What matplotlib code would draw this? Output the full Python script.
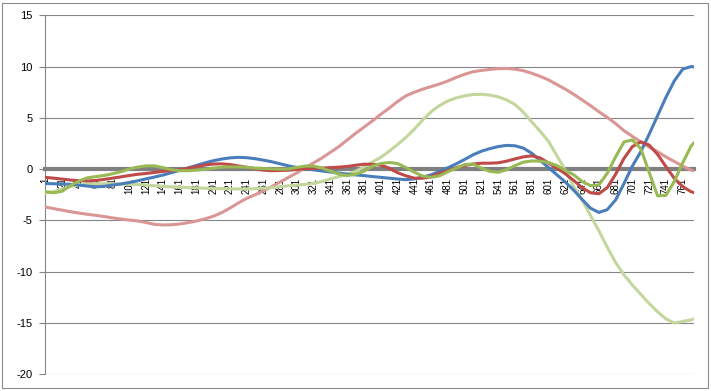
import matplotlib
matplotlib.use('Agg')
import matplotlib.pyplot as plt
from matplotlib.patches import Rectangle

plt.rcParams['font.family'] = ['Liberation Sans', 'DejaVu Sans']
plt.rcParams['axes.unicode_minus'] = False

cats = list(range(1, 772, 10)) + [774]
tick_cats = list(range(1, 762, 20))

blue = [-1.40, -1.42, -1.45, -1.48, -1.55, -1.65, -1.72, -1.68, -1.55, -1.45,
        -1.30, -1.14, -0.95, -0.77, -0.58, -0.35, -0.12, 0.12, 0.36, 0.60,
        0.82, 0.98, 1.10, 1.15, 1.12, 1.02, 0.88, 0.72, 0.52, 0.32,
        0.16, 0.03, -0.07, -0.18, -0.28, -0.38, -0.48, -0.56, -0.63, -0.72,
        -0.80, -0.88, -0.96, -1.02, -0.95, -0.78, -0.55, -0.22, 0.14, 0.52,
        0.95, 1.40, 1.75, 2.00, 2.20, 2.32, 2.28, 2.05, 1.55, 0.85,
        0.16, -0.55, -1.25, -2.05, -2.95, -3.80, -4.22, -3.95, -3.00, -1.40,
        0.30, 1.70, 3.40, 5.20, 7.00, 8.60, 9.75, 10.00, 9.98]

red = [-0.80, -0.88, -0.97, -1.06, -1.12, -1.15, -1.10, -1.00, -0.88, -0.75,
       -0.62, -0.50, -0.42, -0.32, -0.22, -0.15, -0.06, 0.08, 0.25, 0.40,
       0.50, 0.52, 0.45, 0.32, 0.18, 0.05, -0.10, -0.15, -0.13, -0.10,
       -0.02, 0.05, 0.08, 0.10, 0.15, 0.20, 0.26, 0.38, 0.48, 0.47,
       0.38, 0.10, -0.35, -0.65, -0.88, -0.88, -0.75, -0.40, -0.15, 0.15,
       0.35, 0.50, 0.58, 0.58, 0.62, 0.78, 1.00, 1.20, 1.30, 1.10,
       0.60, 0.10, -0.45, -1.10, -1.80, -2.30, -2.40, -1.80, -0.50, 1.05,
       2.20, 2.66, 2.35, 1.45, 0.25, -0.90, -1.70, -2.20, -2.27]

olive = [-2.20, -2.30, -2.15, -1.60, -1.15, -0.85, -0.72, -0.62, -0.45, -0.25,
         0.02, 0.20, 0.32, 0.32, 0.15, -0.05, -0.15, -0.15, -0.10, -0.02,
         0.10, 0.18, 0.22, 0.22, 0.18, 0.10, 0.06, 0.03, 0.00, 0.02,
         0.18, 0.30, 0.30, 0.10, -0.20, -0.48, -0.63, -0.50, -0.20, 0.30,
         0.55, 0.65, 0.55, 0.15, -0.30, -0.68, -0.80, -0.65, -0.25, 0.10,
         0.45, 0.50, 0.10, -0.22, -0.30, -0.05, 0.35, 0.68, 0.80, 0.78,
         0.65, 0.35, -0.10, -0.55, -1.20, -1.60, -1.55, -0.40, 1.20, 2.65,
         2.85, 2.00, -0.30, -2.60, -2.55, -1.20, 0.60, 2.25, 2.53]

pink = [-3.70, -3.85, -4.00, -4.15, -4.28, -4.40, -4.50, -4.62, -4.75, -4.86,
        -4.96, -5.05, -5.20, -5.38, -5.44, -5.42, -5.35, -5.22, -5.06, -4.85,
        -4.60, -4.25, -3.80, -3.30, -2.85, -2.50, -2.10, -1.70, -1.25, -0.80,
        -0.35, 0.15, 0.62, 1.10, 1.65, 2.20, 2.85, 3.50, 4.10, 4.70,
        5.35, 5.95, 6.60, 7.15, 7.50, 7.80, 8.05, 8.30, 8.60, 8.95,
        9.25, 9.50, 9.62, 9.72, 9.80, 9.82, 9.75, 9.60, 9.35, 9.05,
        8.70, 8.25, 7.80, 7.30, 6.75, 6.20, 5.60, 5.05, 4.45, 3.75,
        3.20, 2.65, 2.15, 1.70, 1.20, 0.75, 0.30, -0.10, -0.17]

light_green = [-2.30, -2.20, -1.95, -1.70, -1.55, -1.45, -1.42, -1.42, -1.42, -1.44,
               -1.46, -1.50, -1.55, -1.62, -1.68, -1.72, -1.76, -1.80, -1.83, -1.86,
               -1.88, -1.90, -1.92, -1.93, -1.93, -1.90, -1.86, -1.80, -1.72, -1.62,
               -1.55, -1.48, -1.38, -1.20, -0.95, -0.72, -0.52, -0.20, 0.20, 0.70,
               1.15, 1.75, 2.40, 3.10, 3.90, 4.80, 5.60, 6.20, 6.65, 6.95,
               7.15, 7.28, 7.30, 7.22, 7.05, 6.75, 6.30, 5.55, 4.60, 3.70,
               2.70, 1.30, -0.10, -1.70, -3.00, -4.50, -6.00, -7.60, -9.10, -10.30,
               -11.30, -12.20, -13.10, -13.90, -14.60, -15.00, -14.85, -14.70, -14.60]

W, H = 711, 391
fig = plt.figure(figsize=(W / 100, H / 100), dpi=100)
fig.patch.set_facecolor('white')

# plot area in pixel terms
left, right, top, bottom = 45, 694, 15.3, 374.3
ax = fig.add_axes([left / W, 1 - bottom / H, (right - left) / W, (bottom - top) / H])

# light series underneath, strong ones on top
ax.plot(cats, pink, color='#D99694', lw=2.2, zorder=3)
ax.plot(cats, light_green, color='#C3D69B', lw=2.2, zorder=3)
ax.plot(cats, blue, color='#4A7EBB', lw=2.2, zorder=4)
ax.plot(cats, red, color='#BE4B48', lw=2.2, zorder=4)
ax.plot(cats, olive, color='#98B954', lw=2.2, zorder=4)

ax.set_xlim(0.5, 774.5)
ax.set_ylim(-20, 15)
ax.set_yticks(range(-20, 16, 5))
ax.set_xticks(tick_cats)
ax.set_xticklabels([str(c) for c in tick_cats])

ax.set_axisbelow(True)
ax.yaxis.grid(True, color='#868686', lw=0.8)
ax.xaxis.grid(False)

for s in ['top', 'right']:
    ax.spines[s].set_visible(False)
ax.spines['left'].set_color('#868686')
ax.spines['left'].set_linewidth(0.8)
# the category axis crosses at zero and is drawn as a thick grey bar
ax.spines['bottom'].set_position(('data', 0))
ax.spines['bottom'].set_color('#808080')
ax.spines['bottom'].set_linewidth(3.0)
ax.spines['bottom'].set_zorder(2.5)

ax.tick_params(axis='x', length=0, pad=6, labelsize=7, labelrotation=90)
ax.tick_params(axis='y', length=4, color='#868686', width=0.8, pad=5, labelsize=8)

# outer chart border
fig.patches.append(Rectangle((2 / W, 3 / H), 706 / W, 385 / H, transform=fig.transFigure,
                             fill=False, ec='#8C8C8C', lw=0.8))

fig.savefig('out.png', dpi=100)
